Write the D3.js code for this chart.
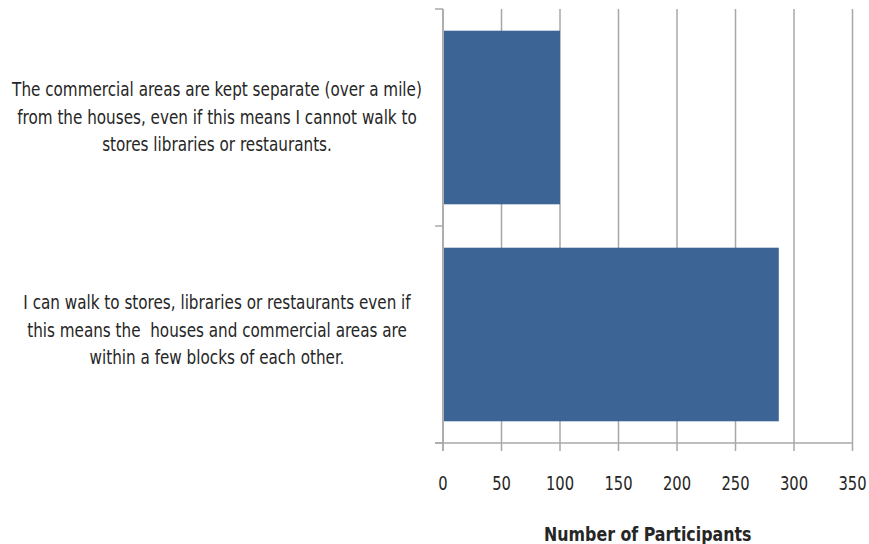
<!DOCTYPE html>
<html>
<head>
<meta charset="utf-8">
<script src="https://cdn.jsdelivr.net/npm/d3@7"></script>
<style>
  body { margin: 0; background: #fff; }
  text { font-family: "DejaVu Sans Condensed", "Liberation Sans Narrow", sans-serif; fill: #262626; }
</style>
</head>
<body>
<div id="chart"></div>
<script>
/***** Data *****/
const categories = [
  "The commercial areas are kept separate (over a mile)|from the houses, even if this means I cannot walk to|stores libraries or restaurants.",
  "I can walk to stores, libraries or restaurants even if|this means the  houses and commercial areas are|within a few blocks of each other."
];
const participants = [100, 287];
const xTicks = [0, 50, 100, 150, 200, 250, 300, 350];
const xTitle = "Number of Participants";

/***** Layout *****/
const width = 869;
const height = 544;
const plotLeft = 443;
const plotRight = 852.5;
const plotTop = 9;
const plotBottom = 443;

const svg = d3.select('#chart')
  .append('svg')
    .attr('width', width)
    .attr('height', height);

const x = d3.scaleLinear()
  .domain([0, 350])
  .range([plotLeft, plotRight]);

const y = d3.scaleBand()
  .domain(categories)
  .range([plotTop, plotBottom])
  .paddingInner(0.2)
  .paddingOuter(0.1);

const gridColor = '#a8a8a8';

// vertical gridlines, run a bit below the axis like ticks
svg.append('g')
  .selectAll('line')
  .data(xTicks)
  .join('line')
    .attr('x1', d => x(d))
    .attr('x2', d => x(d))
    .attr('y1', plotTop)
    .attr('y2', plotBottom + 8)
    .attr('stroke', gridColor)
    .attr('stroke-width', 1.5);

// bars
svg.append('g')
  .selectAll('rect')
  .data(categories)
  .join('rect')
    .attr('x', x(0) + 1)
    .attr('y', d => y(d))
    .attr('width', (d, i) => x(participants[i]) - x(0) - 1)
    .attr('height', y.bandwidth())
    .attr('fill', '#3c6494');

// left axis line with ticks at category bounds
svg.append('line')
  .attr('x1', x(0)).attr('x2', x(0))
  .attr('y1', plotTop).attr('y2', plotBottom + 8)
  .attr('stroke', gridColor)
  .attr('stroke-width', 1.5);

const bounds = [plotTop, plotTop + y.step(), plotBottom];
svg.append('g')
  .selectAll('line')
  .data(bounds)
  .join('line')
    .attr('x1', x(0) - 8)
    .attr('x2', x(0))
    .attr('y1', d => d)
    .attr('y2', d => d)
    .attr('stroke', gridColor)
    .attr('stroke-width', 1.5);

// bottom axis line
svg.append('line')
  .attr('x1', x(0) - 8).attr('x2', plotRight)
  .attr('y1', plotBottom).attr('y2', plotBottom)
  .attr('stroke', gridColor)
  .attr('stroke-width', 1.5);

// no condensed font installed, so squeeze text horizontally
const squeeze = (px, py, s) => `translate(${px},${py}) scale(${s},1)`;

// tick labels
svg.append('g')
  .selectAll('text')
  .data(xTicks)
  .join('text')
    .attr('transform', d => squeeze(x(d), 490, 0.82))
    .attr('text-anchor', 'middle')
    .attr('font-size', 20)
    .text(d => d);

// axis title
svg.append('text')
  .attr('transform', squeeze((plotLeft + plotRight) / 2, 541, 0.88))
  .attr('text-anchor', 'middle')
  .attr('font-size', 20)
  .attr('font-weight', 'bold')
  .text(xTitle);

// category labels, wrapped on '|'
const lineGap = 27.5;
const labelNudge = [-1, -5];
svg.append('g')
  .selectAll('text')
  .data(categories)
  .join('text')
    .attr('transform', (d, i) => squeeze(217, y(d) + y.bandwidth() / 2 + labelNudge[i], 0.89))
    .attr('text-anchor', 'middle')
    .attr('font-size', 19)
    .each(function(d) {
      const lines = d.split('|');
      d3.select(this).selectAll('tspan')
        .data(lines)
        .join('tspan')
          .attr('x', 0)
          .attr('y', (l, i) => (i - (lines.length - 1) / 2) * lineGap + 7)
          .attr('xml:space', 'preserve')
          .text(l => l);
    });
</script>
</body>
</html>
